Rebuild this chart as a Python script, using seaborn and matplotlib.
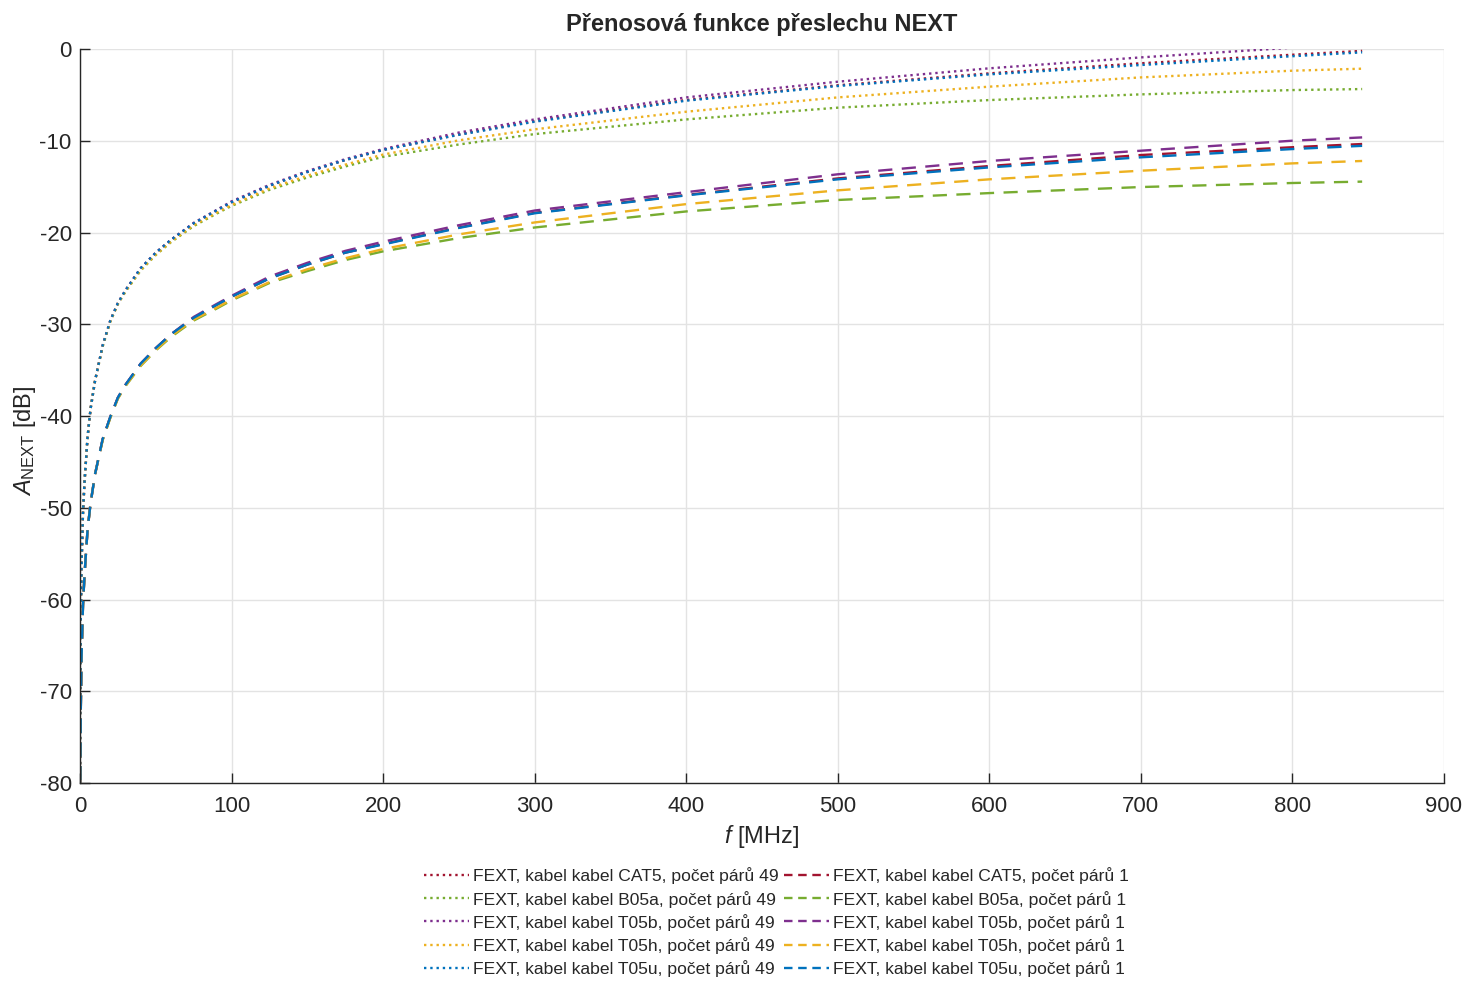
import numpy as np
import pandas as pd
import matplotlib
matplotlib.use("Agg")
import matplotlib.pyplot as plt
import seaborn as sns

# frequency grid [MHz]
freq = [0.05, 0.2, 0.5, 1, 2, 3, 5, 7, 10, 15, 20, 25, 30, 40, 50, 60, 75, 90, 100,
        125, 150, 175, 200, 250, 300, 400, 500, 600, 700, 800, 846]

cables = ["CAT5", "B05a", "T05b", "T05h", "T05u"]
colors = ["#A2142F", "#77AC30", "#7E2F8E", "#EDB120", "#0072BD"]

# 49 pairs (dotted)
next49_cat5 = [-80, -70, -62.5, -56.5, -50.5, -47.2, -42.3, -39.2, -36.1, -32.3, -29.6, -27.7,
               -26.3, -23.9, -22.2, -20.8, -19.0, -17.6, -16.7, -14.9, -13.4, -12.1, -11.0,
               -9.3, -7.85, -5.55, -3.95, -2.65, -1.55, -0.62, -0.2]
next49_b05a = [-80, -70, -62.5, -56.5, -50.5, -47.2, -42.3, -39.2, -36.1, -32.4, -29.7, -27.8,
               -26.45, -24.15, -22.45, -21.05, -19.3, -17.95, -17.1, -15.35, -14.0, -12.8, -11.75,
               -10.4, -9.27, -7.67, -6.39, -5.56, -4.94, -4.47, -4.36]
next49_t05b = [-80, -70, -62.5, -56.5, -50.5, -47.2, -42.3, -39.2, -36.1, -32.3, -29.6, -27.7,
               -26.3, -23.9, -22.2, -20.8, -18.95, -17.55, -16.6, -14.8, -13.3, -12.0, -10.9,
               -9.1, -7.67, -5.27, -3.56, -2.1, -0.91, 0.15, 0.6]
next49_t05h = [-80, -70, -62.5, -56.5, -50.5, -47.2, -42.3, -39.2, -36.1, -32.4, -29.7, -27.8,
               -26.4, -24.1, -22.4, -21.0, -19.2, -17.85, -17.0, -15.2, -13.8, -12.6, -11.5,
               -9.95, -8.75, -6.83, -5.27, -4.1, -3.09, -2.36, -2.14]
next49_t05u = [-80, -70, -62.5, -56.5, -50.5, -47.2, -42.3, -39.2, -36.1, -32.3, -29.6, -27.7,
               -26.3, -23.9, -22.2, -20.8, -19.0, -17.6, -16.7, -14.9, -13.4, -12.1, -11.0,
               -9.35, -7.92, -5.63, -4.03, -2.76, -1.74, -0.78, -0.36]

# 1 pair (dashed)
next1_cat5 = [-90, -80, -72.5, -66.5, -60.6, -57.3, -52.4, -49.5, -46.3, -42.5, -40.1, -38.0,
              -36.6, -34.3, -32.6, -31.1, -29.3, -27.9, -27.0, -25.0, -23.5, -22.2, -21.25,
              -19.45, -17.85, -15.9, -14.1, -12.75, -11.55, -10.7, -10.35]
next1_b05a = [-90, -80, -72.5, -66.5, -60.6, -57.3, -52.4, -49.5, -46.3, -42.6, -40.2, -38.1,
              -36.75, -34.55, -32.85, -31.4, -29.6, -28.3, -27.4, -25.5, -24.2, -23.0, -22.05,
              -20.6, -19.45, -17.7, -16.45, -15.7, -15.04, -14.6, -14.45]
next1_t05b = [-90, -80, -72.5, -66.5, -60.6, -57.3, -52.4, -49.5, -46.3, -42.5, -40.1, -38.0,
              -36.6, -34.3, -32.6, -31.1, -29.2, -27.8, -26.9, -24.8, -23.3, -22.0, -21.0,
              -19.2, -17.6, -15.6, -13.65, -12.2, -11.08, -9.99, -9.63]
next1_t05h = [-90, -80, -72.5, -66.5, -60.6, -57.3, -52.4, -49.5, -46.3, -42.6, -40.2, -38.1,
              -36.7, -34.5, -32.8, -31.3, -29.5, -28.2, -27.3, -25.4, -24.0, -22.8, -21.8,
              -20.2, -18.9, -16.9, -15.4, -14.2, -13.26, -12.46, -12.2]
next1_t05u = [-90, -80, -72.5, -66.5, -60.6, -57.3, -52.4, -49.5, -46.3, -42.5, -40.1, -38.0,
              -36.6, -34.3, -32.6, -31.1, -29.3, -27.9, -27.0, -25.0, -23.5, -22.2, -21.3,
              -19.5, -17.9, -15.95, -14.2, -12.9, -11.8, -10.9, -10.55]

series49 = [next49_cat5, next49_b05a, next49_t05b, next49_t05h, next49_t05u]
series1 = [next1_cat5, next1_b05a, next1_t05b, next1_t05h, next1_t05u]

sns.set_theme(style="whitegrid")
plt.rcParams['font.family'] = ['Liberation Sans', 'DejaVu Sans']
plt.rcParams['axes.unicode_minus'] = False
plt.rcParams['mathtext.fontset'] = 'custom'
plt.rcParams['mathtext.it'] = 'Liberation Sans:italic'
plt.rcParams['mathtext.rm'] = 'Liberation Sans'

fig = plt.figure(figsize=(14.7, 9.81), dpi=100)
ax = fig.add_axes([0.0544, 0.2018, 0.9279, 0.7482])

for name, col, vals in zip(cables, colors, series49):
    df = pd.DataFrame({"f": freq, "A": vals})
    sns.lineplot(data=df, x="f", y="A", color=col, linestyle=":", linewidth=1.7,
                 label="FEXT, kabel kabel %s, počet párů 49" % name, ax=ax)
for name, col, vals in zip(cables, colors, series1):
    df = pd.DataFrame({"f": freq, "A": vals})
    sns.lineplot(data=df, x="f", y="A", color=col, linewidth=1.7, dashes=False,
                 label="FEXT, kabel kabel %s, počet párů 1" % name, ax=ax)
    ax.lines[-1].set_dashes((6, 4))

ax.set_xlim(0, 900)
ax.set_ylim(-80, 0)
ax.set_xticks(np.arange(0, 901, 100))
ax.set_yticks(np.arange(-80, 1, 10))
ax.grid(True, color="#e3e3e3", linewidth=1)
for s in ["top", "right"]:
    ax.spines[s].set_visible(False)
for s in ["left", "bottom"]:
    ax.spines[s].set_color("#262626")
    ax.spines[s].set_linewidth(1)
ax.tick_params(direction="in", length=7, width=1, labelsize=16, colors="#262626",
               left=True, bottom=True, pad=6)
ax.tick_params(axis="x", pad=9)

ax.set_title("Přenosová funkce přeslechu NEXT", fontsize=17, fontweight="bold", pad=13)
ax.set_xlabel(r"$\it{f}$ [MHz]", fontsize=17, color="#262626", labelpad=5)
ax.set_ylabel(r"$\it{A}_{\rm NEXT}$ [dB]", fontsize=17, color="#262626")
ax.yaxis.set_label_coords(-0.031, 0.466)

ax.get_legend().remove()
h, l = ax.get_legend_handles_labels()
leg = fig.legend(h, l, ncol=2, loc="center", bbox_to_anchor=(0.528, 0.06), frameon=False,
                 fontsize=12.6, handlelength=2.6, handletextpad=0.2, columnspacing=0.3,
                 labelspacing=0.35)
for line in leg.get_lines()[5:]:
    line.set_dashes((3.6, 2.4))

fig.savefig("out.png", dpi=100)
